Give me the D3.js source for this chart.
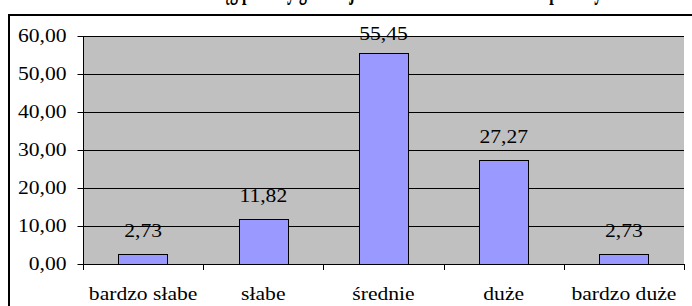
<!DOCTYPE html>
<html><head><meta charset="utf-8">
<script src="https://cdn.jsdelivr.net/npm/d3@7"></script>
<style>body{margin:0;background:#fff;overflow:hidden}svg{display:block}</style>
</head><body>
<script>
const categories = ["bardzo słabe", "słabe", "średnie", "duże", "bardzo duże"];
const values = [2.73, 11.82, 55.45, 27.27, 2.73];
const valueLabels = ["2,73", "11,82", "55,45", "27,27", "2,73"];
const yTicks = [0, 10, 20, 30, 40, 50, 60];
const yTickLabels = ["0,00", "10,00", "20,00", "30,00", "40,00", "50,00", "60,00"];
const titleText = "Zasięg pomocy gminnej dla mieszkańców w ramach pomocy";

const W = 692, H = 306;
const svg = d3.select("body").append("svg").attr("width", W).attr("height", H);
const font = "'Liberation Serif','Times New Roman',serif";
const SX = 1.2;

// chart area border
svg.append("rect").attr("x", 9).attr("y", 15).attr("width", 720).attr("height", 320)
  .attr("fill", "#fff").attr("stroke", "#000").attr("stroke-width", 2);

// title (cropped at top, as in the reference)
svg.append("g").attr("transform", "translate(398,-1.5)")
  .append("text").attr("transform", "scale(0.53,1)")
  .attr("text-anchor", "middle").attr("font-family", font).attr("font-weight", "bold")
  .attr("font-size", 30).text(titleText);

const pLeft = 83, pRight = 684, pTop = 36, pBottom = 264;
const x = d3.scaleBand().domain(categories).range([pLeft, pRight]).paddingInner(0.59).paddingOuter(0.295);
const xb = d3.scaleBand().domain(categories).range([pLeft, pRight]);
const y = d3.scaleLinear().domain([0, 60]).range([pBottom, pTop]);

svg.append("rect").attr("x", pLeft).attr("y", pTop).attr("width", pRight - pLeft).attr("height", pBottom - pTop)
  .attr("fill", "#c0c0c0");

// gridlines
svg.append("g").selectAll("line").data(yTicks.filter(d => d > 0)).join("line")
  .attr("x1", pLeft).attr("x2", pRight).attr("y1", d => Math.round(y(d)) + 0.5).attr("y2", d => Math.round(y(d)) + 0.5)
  .attr("stroke", "#000").attr("stroke-width", 1);

// bars
svg.append("g").selectAll("rect").data(values).join("rect")
  .attr("x", (d, i) => Math.round(x(categories[i])) + 0.5)
  .attr("y", d => Math.round(y(d)) + 0.5)
  .attr("width", Math.round(x.bandwidth()))
  .attr("height", d => Math.round(pBottom) - Math.round(y(d)))
  .attr("fill", "#9999ff").attr("stroke", "#000").attr("stroke-width", 1);

// y axis
const yAxis = svg.append("g").attr("transform", `translate(${pLeft + 0.5},0)`);
yAxis.append("line").attr("y1", pTop).attr("y2", pBottom + 6).attr("stroke", "#000");
yAxis.selectAll("line.t").data(yTicks).join("line").attr("class", "t")
  .attr("x1", -6).attr("x2", 0).attr("y1", d => Math.round(y(d)) + 0.5).attr("y2", d => Math.round(y(d)) + 0.5)
  .attr("stroke", "#000");
yAxis.selectAll("g.l").data(yTicks).join("g").attr("class", "l")
  .attr("transform", d => `translate(-17,${y(d) + 6})`)
  .append("text").attr("transform", `scale(${SX},1)`).attr("text-anchor", "end")
  .attr("font-family", font).attr("font-size", 18).attr("fill", "#000")
  .text((d, i) => yTickLabels[i]);

// x axis
const xAxis = svg.append("g");
xAxis.append("line").attr("x1", pLeft).attr("x2", pRight).attr("y1", pBottom + 0.5).attr("y2", pBottom + 0.5).attr("stroke", "#000");
const tickPos = categories.map(c => xb(c)).concat([pRight]);
xAxis.selectAll("line.t").data(tickPos).join("line").attr("class", "t")
  .attr("x1", d => Math.round(d) + 0.5).attr("x2", d => Math.round(d) + 0.5)
  .attr("y1", pBottom).attr("y2", pBottom + 6).attr("stroke", "#000");
xAxis.selectAll("g.l").data(categories).join("g").attr("class", "l")
  .attr("transform", d => `translate(${xb(d) + xb.bandwidth() / 2},${pBottom + 36})`)
  .append("text").attr("transform", `scale(${SX},1)`).attr("text-anchor", "middle")
  .attr("font-family", font).attr("font-size", 18).attr("fill", "#000")
  .text(d => d);

// value labels
svg.append("g").selectAll("g").data(values).join("g")
  .attr("transform", (d, i) => `translate(${x(categories[i]) + x.bandwidth() / 2},${Math.max(y(d) - 17, pTop + 4)})`)
  .append("text").attr("transform", `scale(${SX},1)`).attr("text-anchor", "middle")
  .attr("font-family", font).attr("font-size", 18).attr("fill", "#000")
  .text((d, i) => valueLabels[i]);
</script>
</body></html>
